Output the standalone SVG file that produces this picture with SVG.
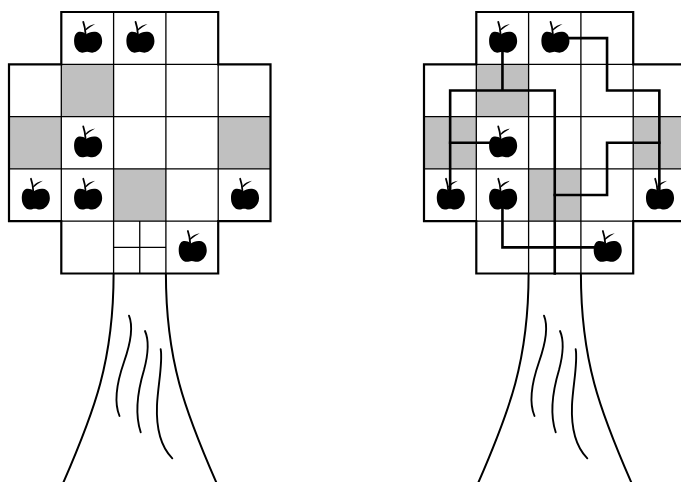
<svg xmlns="http://www.w3.org/2000/svg" xmlns:xlink="http://www.w3.org/1999/xlink" width="681" height="482" viewBox="0 0 681 482">
  <style>
    .shade { fill: #c0c0c0; }
    .outer { fill: none; stroke: #000; stroke-width: 2.2; stroke-linejoin: miter; }
    .inner { fill: none; stroke: #000; stroke-width: 1.3; }
    .trunk { fill: none; stroke: #000; stroke-width: 2; }
    .bark { fill: none; stroke: #000; stroke-width: 1.9; stroke-linecap: round; }
    .route { fill: none; stroke: #000; stroke-width: 2.6; stroke-linejoin: miter; stroke-linecap: square; }
  </style>
  <defs>
    <!-- apple drawn around a cell centre -->
    <g id="apple">
      <g transform="translate(0.7,4.2)">
        <path fill="#000" d="M-2,-8 C-4.5,-10.5 -8,-11 -10.5,-10 C-13.5,-8.5 -14.2,-4 -14,0 C-13.8,5 -10.5,10.3 -6,10.3 C-4,10.3 -3,9.5 -1,9.5 C1,9.5 2,10.3 4,10.3 C9,10.3 14,5 14,-1 C14,-6 12,-10 7,-10.5 C3,-10.8 0.5,-9.5 -2,-8 Z"/>
        <path fill="none" stroke="#000" stroke-width="1.8" stroke-linecap="round" d="M-4.9,-20.5 Q-3,-15 -2.6,-8.5"/>
        <path fill="#000" d="M-2.8,-13 Q1,-17.6 7,-18.4 Q2,-15.6 -2.6,-11.6 Z"/>
      </g>
    </g>
    <!-- grid: shaded cells, frame, inner lines -->
    <g id="shading">
      <rect class="shade" x="52.3" y="52.3" width="52.3" height="52.3"/>
      <rect class="shade" x="0" y="104.6" width="52.3" height="52.3"/>
      <rect class="shade" x="209.2" y="104.6" width="52.3" height="52.3"/>
      <rect class="shade" x="104.6" y="156.9" width="52.3" height="52.3"/>
    </g>
    <g id="lines">
      <path class="inner" d="M52.3,52.3 H209.2 M0,104.6 H261.5 M0,156.9 H261.5 M52.3,209.2 H209.2 M104.6,0 V261.5 M156.9,0 V261.5 M52.3,52.3 V209.2 M209.2,52.3 V209.2 M130.75,209.2 V261.5 M104.6,235.35 H156.9"/>
      <path class="outer" d="M52.3,0 H209.2 V52.3 H261.5 V209.2 H209.2 V261.5 H52.3 V209.2 H0 V52.3 H52.3 Z"/>
    </g>
    <g id="trunk">
      <path class="trunk" d="M104.6,261.5 C104.6,348 86,398 53.7,472"/>
      <path class="trunk" d="M156.9,261.5 C156.9,348 175.5,398 208,472"/>
      <path class="bark" d="M120,303.7 C125,316 121,333 115,350 C107,373 105,391 110.5,404"/>
      <path class="bark" d="M136,319 C140,328 139,343 135,358 C129,378 125,400 131.7,420.3"/>
      <path class="bark" d="M151.7,337.3 C154,350 149,373 148,393 C147,418 153,436 163.3,446.3"/>
    </g>
    <g id="apples">
      <use xlink:href="#apple" x="78.45" y="26.15"/>
      <use xlink:href="#apple" x="130.75" y="26.15"/>
      <use xlink:href="#apple" x="78.45" y="130.75"/>
      <use xlink:href="#apple" x="26.15" y="183.05"/>
      <use xlink:href="#apple" x="78.45" y="183.05"/>
      <use xlink:href="#apple" x="235.35" y="183.05"/>
      <use xlink:href="#apple" x="183.05" y="235.35"/>
    </g>
  </defs>

  <!-- left tree: puzzle -->
  <g id="tree-puzzle" transform="translate(9,12)">
    <use xlink:href="#shading"/>
    <use xlink:href="#lines"/>
    <use xlink:href="#trunk"/>
    <use xlink:href="#apples"/>
  </g>

  <!-- right tree: solution with routes -->
  <g id="tree-solution" transform="translate(424,12)">
    <use xlink:href="#shading"/>
    <use xlink:href="#lines"/>
    <use xlink:href="#trunk"/>
    <g id="routes">
      <path class="route" d="M78.45,26.15 V78.45 M26.15,78.45 H130.75 M26.15,78.45 V183.05 M130.75,78.45 V261.5"/>
      <path class="route" d="M130.75,26.15 H183.05 V78.45 H235.35 V183.05"/>
      <path class="route" d="M235.35,130.75 H183.05 V183.05 H130.75"/>
      <path class="route" d="M78.45,130.75 H26.15"/>
      <path class="route" d="M78.45,183.05 V235.35 H183.05"/>
    </g>
    <use xlink:href="#apples"/>
  </g>
</svg>
